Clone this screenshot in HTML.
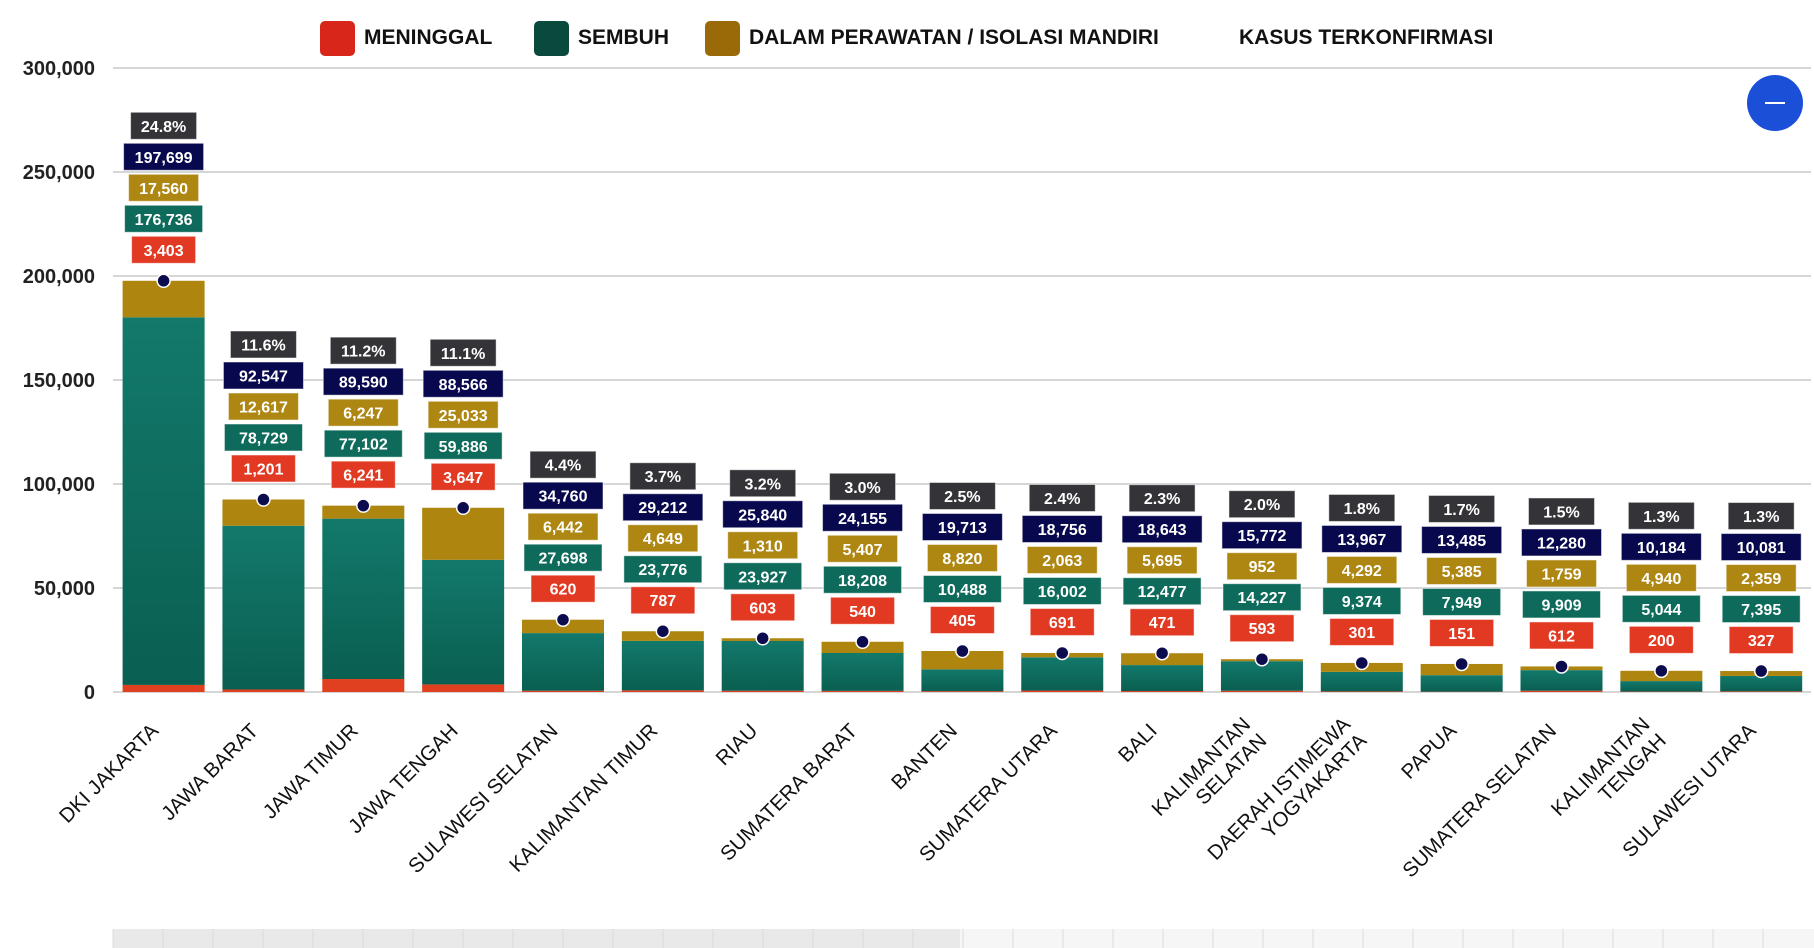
<!DOCTYPE html>
<html><head><meta charset="utf-8"><style>
html,body{margin:0;padding:0;background:#fff;width:1814px;height:948px;overflow:hidden}
svg{display:block;font-family:"Liberation Sans",sans-serif}
</style></head><body>
<svg id="chart" width="1814" height="948" viewBox="0 0 1814 948">
<defs>
<linearGradient id="gTeal" x1="0" y1="0" x2="0" y2="1"><stop offset="0" stop-color="#12796b"/><stop offset="1" stop-color="#0a5f51"/></linearGradient>
</defs>
<g id="legend">
<g><rect x="320" y="21" width="35" height="35" rx="5" fill="#d8261a"/><text x="364" y="44" font-size="21" font-weight="bold" fill="#111">MENINGGAL</text></g>
<g><rect x="534" y="21" width="35" height="35" rx="5" fill="#0a4a3c"/><text x="578" y="44" font-size="21" font-weight="bold" fill="#111">SEMBUH</text></g>
<g><rect x="705" y="21" width="35" height="35" rx="5" fill="#9a6a08"/><text x="749" y="44" font-size="21" font-weight="bold" fill="#111">DALAM PERAWATAN / ISOLASI MANDIRI</text></g>
<g><text x="1239" y="44" font-size="21" font-weight="bold" fill="#111">KASUS TERKONFIRMASI</text></g>
</g>
<g id="grid"></g><g id="bars"></g><g id="labels"></g><g id="xlabels"></g>
<g><circle cx="1775" cy="103" r="28" fill="#1b4fd8"/><rect x="1765" y="102" width="20" height="2" fill="#fff"/></g>
<g id="scroll"></g>
</svg>
<script>
const categories=["DKI JAKARTA","JAWA BARAT","JAWA TIMUR","JAWA TENGAH","SULAWESI SELATAN","KALIMANTAN TIMUR","RIAU","SUMATERA BARAT","BANTEN","SUMATERA UTARA","BALI","KALIMANTAN|SELATAN","DAERAH ISTIMEWA|YOGYAKARTA","PAPUA","SUMATERA SELATAN","KALIMANTAN|TENGAH","SULAWESI UTARA"];
const meninggal=[3403,1201,6241,3647,620,787,603,540,405,691,471,593,301,151,612,200,327];
const sembuh=[176736,78729,77102,59886,27698,23776,23927,18208,10488,16002,12477,14227,9374,7949,9909,5044,7395];
const perawatan=[17560,12617,6247,25033,6442,4649,1310,5407,8820,2063,5695,952,4292,5385,1759,4940,2359];
const total=[197699,92547,89590,88566,34760,29212,25840,24155,19713,18756,18643,15772,13967,13485,12280,10184,10081];
const percent=["24.8%","11.6%","11.2%","11.1%","4.4%","3.7%","3.2%","3.0%","2.5%","2.4%","2.3%","2.0%","1.8%","1.7%","1.5%","1.3%","1.3%"];
const yTicks=[0,50000,100000,150000,200000,250000,300000];

const NS="http://www.w3.org/2000/svg";
const X0=113,X1=1811,Y0=692,YMAX=300000,PH=624,BL=122.6,PITCH=99.85,BW=82;
const y=v=>Y0-v/YMAX*PH;
const xc=i=>BL+i*PITCH+BW/2;
function mk(tag,attrs,parent){const e=document.createElementNS(NS,tag);for(const k in attrs)e.setAttribute(k,attrs[k]);parent.appendChild(e);return e;}
const fmt=n=>n.toLocaleString('en-US');
const grid=document.getElementById('grid');
yTicks.forEach(t=>{
  const l=mk('line',{x1:X0,x2:X1,y1:y(t),y2:y(t),stroke:'#d6d6d6','stroke-width':2},grid);
  
  
  const tx=mk('text',{x:95,y:y(t)+7,'text-anchor':'end','font-size':20,'font-weight':'bold',fill:'#222'},grid);
  tx.textContent=fmt(t);
  
  
});
const bars=document.getElementById('bars'),labels=document.getElementById('labels'),xl=document.getElementById('xlabels');
categories.forEach((c,i)=>{
  const x=BL+i*PITCH;
  const g=mk('g',{},bars);
  
  
  const m=meninggal[i],s=sembuh[i],p=perawatan[i];
  const r1=mk('rect',{x:x,y:y(m),width:BW,height:Y0-y(m),fill:'#e0401f'},g);
  
  
  const r2=mk('rect',{x:x,y:y(m+s),width:BW,height:y(m)-y(m+s),fill:'url(#gTeal)'},g);
  
  
  const r3=mk('rect',{x:x,y:y(m+s+p),width:BW,height:y(m+s)-y(m+s+p),fill:'#ad850f'},g);
  
  
  const cx=xc(i),ty=y(total[i]);
  const dot=mk('circle',{cx:cx,cy:ty,r:6.5,fill:'#0b0b4d',stroke:'#fff','stroke-width':1.5},g);
  
  
  const boxes=[[fmt(m),'#e23a22',64],[fmt(s),'#0e6b5b',78],[fmt(p),'#ae8612',70],[fmt(total[i]),'#08084e',80],[percent[i],'#333338',66]];
  boxes.forEach((b,k)=>{
    const cy=ty-31-k*31;
    const r=mk('rect',{x:cx-b[2]/2,y:cy-13.5,width:b[2],height:27,fill:b[1],stroke:'rgba(255,255,255,0.5)','stroke-width':1},labels);
    
    
    const t=mk('text',{x:cx,y:cy+6,'text-anchor':'middle','font-size':16,'font-weight':'bold',fill:'#fff'},labels);
    t.textContent=b[0];
    
    
  });
  const parts=c.split('|');
  const t=mk('text',{transform:`translate(${cx-4},${732}) rotate(-45)`,'text-anchor':'end','font-size':20.5,fill:'#111'},xl);
  
  
  parts.forEach((pt,k)=>{const ts=mk('tspan',{x:0,dy:k?23:(parts.length>1?-9:0)},t);ts.textContent=pt;});
});
const sc=document.getElementById('scroll');
mk('rect',{x:113,y:929,width:1701,height:19,fill:'#f6f6f6'},sc);
mk('rect',{x:113,y:929,width:847,height:19,fill:'#e9e9e9'},sc);
for(let k=0;k<34;k++){mk('line',{x1:113+k*50,x2:113+k*50,y1:929,y2:948,stroke:'#dcdcdc','stroke-width':1},sc);}
</script>
</body></html>
